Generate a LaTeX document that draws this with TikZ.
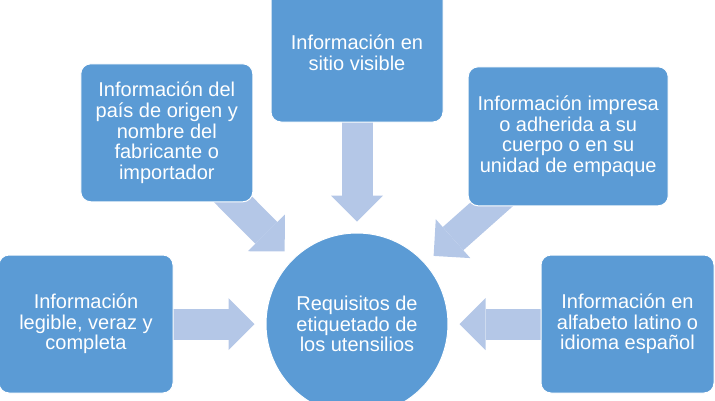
\documentclass[tikz,border=0pt]{standalone}
\usepackage{fontspec}
\setmainfont{Liberation Sans}
\usetikzlibrary{positioning,arrows.meta,backgrounds}
\definecolor{boxblue}{RGB}{91,155,213}
\definecolor{flowblue}{RGB}{180,199,231}

\begin{document}
\begin{tikzpicture}[x=1pt, y=-1pt,
    info/.style={rectangle, rounded corners=10pt, fill=boxblue, draw=white, line width=1pt,
      text=white, align=center, minimum width=172pt, minimum height=138pt,
      font=\fontsize{20}{20.7}\selectfont},
    goal/.style={circle, fill=boxblue, draw=white, line width=1pt, text=white,
      align=center, minimum size=182pt, font=\fontsize{20}{20.7}\selectfont},
    flow/.style={draw=flowblue, line width=31pt, shorten >=11pt,
      -{Triangle[length=26pt, width=52pt, line width=0pt]}}]
  \useasboundingbox (0,0) rectangle (715,400);
  \node [goal] (req) at (357,324) {Requisitos de\\etiquetado de\\los utensilios};
  \node [info, minimum width=174pt, left=92pt of req] (legible) {Información\\legible, veraz y\\completa};
  \node [info, minimum width=173pt, right=92pt of req] (idioma) {Información en\\alfabeto latino o\\idioma español};
  \node [info, above=110pt of req] (sitio) {Información en\\sitio visible};
  \node [info, above left=57pt and 39pt of req] (origen) {Información del\\país de origen y\\nombre del\\fabricante o\\importador};
  \node [info, minimum width=200pt, minimum height=139pt, above right=53pt and 46pt of req] (impresa)
    {Información impresa\\o adherida a su\\cuerpo o en su\\unidad de empaque};
  \begin{scope}[on background layer]
    \draw [flow] (legible.center) -- (req);
    \draw [flow] (idioma.center) -- (req);
    \draw [flow] (sitio.center) -- (req);
    \draw [flow] (origen.center) -- (req);
    \draw [flow] (impresa.center) -- (req);
  \end{scope}
\end{tikzpicture}
\end{document}
